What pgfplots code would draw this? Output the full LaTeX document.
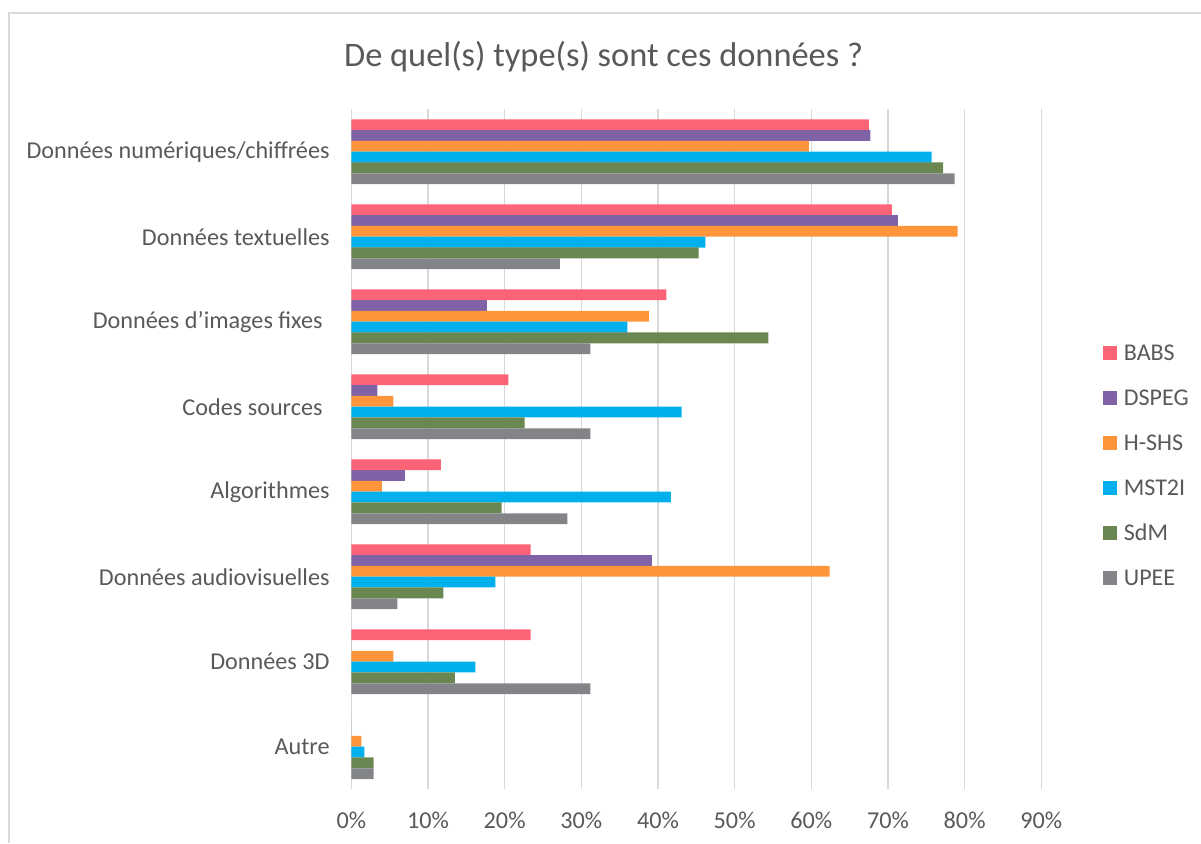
\documentclass[border=0pt]{standalone}
\usepackage{fontspec}
\setmainfont{Carlito}
\usepackage{pgfplots}
\usepackage{pgfplotstable}
\pgfplotsset{compat=1.18}

\definecolor{cBABS}{RGB}{252,99,119}
\definecolor{cDSPEG}{RGB}{128,99,166}
\definecolor{cHSHS}{RGB}{255,149,59}
\definecolor{cMST}{RGB}{0,176,236}
\definecolor{cSdM}{RGB}{107,135,81}
\definecolor{cUPEE}{RGB}{131,132,136}
\definecolor{txt}{RGB}{89,89,89}
\definecolor{gridc}{RGB}{217,217,217}

% values in percent, one row per category (0 = top)
\pgfplotstableread{
idx BABS DSPEG HSHS MST SdM UPEE
0 67.5 67.7 59.7 75.7 77.2 78.7
1 70.5 71.3 79.1 46.2 45.3 27.2
2 41.1 17.7 38.8 36.0 54.4 31.2
3 20.5 3.4  5.5  43.1 22.6 31.2
4 11.7 7.0  4.0  41.7 19.6 28.2
5 23.4 39.2 62.4 18.8 12.0 6.0
6 23.4 0    5.5  16.2 13.5 31.2
7 0    0    1.3  1.7  2.9  2.9
}\datatable

\begin{document}
\begin{tikzpicture}
\path[use as bounding box] (0,0) rectangle (600.5pt,421.5pt);
\draw[gridc, line width=0.75pt] (4.5pt,0) -- (4.5pt,415pt) -- (601pt,415pt);
\node[txt, font=\fontsize{17.2}{20.6}\selectfont] at (301.8pt,393pt) {De quel(s) type(s) sont ces données ?};
\begin{axis}[
  at={(175.65pt,26.9pt)}, anchor=south west,
  scale only axis, width=345pt, height=340pt,
  xbar, bar width=0.1268,
  xmin=0, xmax=90, ymin=-0.5, ymax=7.5,
  y dir=reverse,
  xtick={0,10,...,90},
  xticklabel={\pgfmathprintnumber{\tick}\%},
  ytick={0,...,7},
  yticklabels={Données numériques/chiffrées, Données textuelles, Données d’images fixes\rule{3.5pt}{0pt}, Codes sources\rule{3.5pt}{0pt}, Algorithmes, Données audiovisuelles, Données 3D, Autre},
  /pgf/number format/assume math mode=true,
  major tick length=0pt,
  tick label style={txt, font=\fontsize{12.1}{14.5}\selectfont},
  xticklabel style={anchor=center, yshift=-15.5pt},
  yticklabel style={anchor=east, inner sep=0pt, xshift=-10.65pt},
  axis line style={draw=none},
  tick style={draw=none},
  xmajorgrids,
  grid style={gridc, line width=0.75pt},
  legend cell align=left,
  legend image code/.code={\fill[#1] (0pt,-3.5pt) rectangle (7pt,3.5pt);},
  legend style={at={(1.089,0.654)}, anchor=north west, draw=none, fill=none,
    inner sep=0pt, row sep=14.5pt, column sep=3.4pt,
    font=\fontsize{12}{14.4}\selectfont, text=txt,
    nodes={inner sep=0pt, text height=8pt, text depth=0pt}},
]
\addplot[draw=none, fill=cBABS, bar shift=-0.317] table[x=BABS, y=idx] {\datatable};
\addlegendentry{BABS}
\addplot[draw=none, fill=cDSPEG, bar shift=-0.190] table[x=DSPEG, y=idx] {\datatable};
\addlegendentry{DSPEG}
\addplot[draw=none, fill=cHSHS, bar shift=-0.0634] table[x=HSHS, y=idx] {\datatable};
\addlegendentry{H-SHS}
\addplot[draw=none, fill=cMST, bar shift=0.0634] table[x=MST, y=idx] {\datatable};
\addlegendentry{MST2I}
\addplot[draw=none, fill=cSdM, bar shift=0.190] table[x=SdM, y=idx] {\datatable};
\addlegendentry{SdM}
\addplot[draw=none, fill=cUPEE, bar shift=0.317] table[x=UPEE, y=idx] {\datatable};
\addlegendentry{UPEE}
\end{axis}
\end{tikzpicture}
\end{document}
